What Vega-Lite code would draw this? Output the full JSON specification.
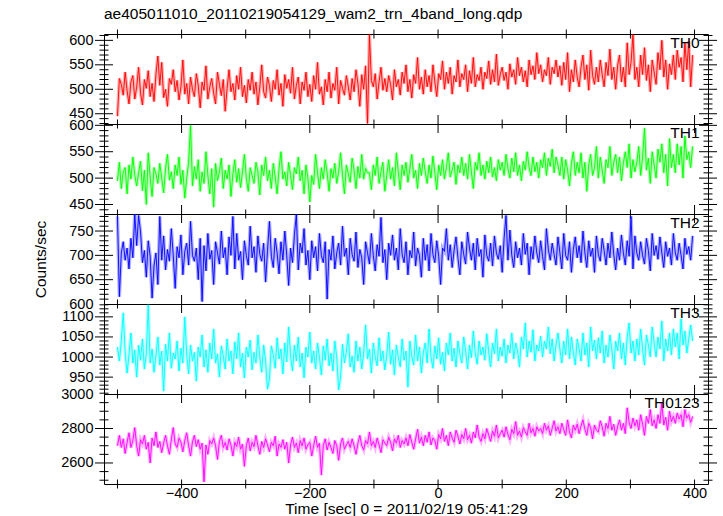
{
"$schema":"https://vega.github.io/schema/vega-lite/v6.json",
"padding":{"left":33,"top":6,"right":10,"bottom":0},
"background":"white",
"datasets":{
"xt":[{"v":-500,"k":"minor"},{"v":-400,"k":"major"},{"v":-300,"k":"minor"},{"v":-200,"k":"major"},{"v":-100,"k":"minor"},{"v":0,"k":"major"},{"v":100,"k":"minor"},{"v":200,"k":"major"},{"v":300,"k":"minor"},{"v":400,"k":"major"}],
"y0":[{"v":430,"k":"minor"},{"v":440,"k":"minor"},{"v":450,"k":"major"},{"v":460,"k":"minor"},{"v":470,"k":"minor"},{"v":480,"k":"minor"},{"v":490,"k":"minor"},{"v":500,"k":"major"},{"v":510,"k":"minor"},{"v":520,"k":"minor"},{"v":530,"k":"minor"},{"v":540,"k":"minor"},{"v":550,"k":"major"},{"v":560,"k":"minor"},{"v":570,"k":"minor"},{"v":580,"k":"minor"},{"v":590,"k":"minor"},{"v":600,"k":"major"},{"v":610,"k":"minor"}],
"y1":[{"v":440,"k":"minor"},{"v":450,"k":"major"},{"v":460,"k":"minor"},{"v":470,"k":"minor"},{"v":480,"k":"minor"},{"v":490,"k":"minor"},{"v":500,"k":"major"},{"v":510,"k":"minor"},{"v":520,"k":"minor"},{"v":530,"k":"minor"},{"v":540,"k":"minor"},{"v":550,"k":"major"},{"v":560,"k":"minor"},{"v":570,"k":"minor"},{"v":580,"k":"minor"},{"v":590,"k":"minor"},{"v":600,"k":"major"}],
"y2":[{"v":610,"k":"minor"},{"v":620,"k":"minor"},{"v":630,"k":"minor"},{"v":640,"k":"minor"},{"v":650,"k":"major"},{"v":660,"k":"minor"},{"v":670,"k":"minor"},{"v":680,"k":"minor"},{"v":690,"k":"minor"},{"v":700,"k":"major"},{"v":710,"k":"minor"},{"v":720,"k":"minor"},{"v":730,"k":"minor"},{"v":740,"k":"minor"},{"v":750,"k":"major"},{"v":760,"k":"minor"},{"v":770,"k":"minor"},{"v":780,"k":"minor"}],
"y3":[{"v":910,"k":"minor"},{"v":920,"k":"minor"},{"v":930,"k":"minor"},{"v":940,"k":"minor"},{"v":950,"k":"major"},{"v":960,"k":"minor"},{"v":970,"k":"minor"},{"v":980,"k":"minor"},{"v":990,"k":"minor"},{"v":1000,"k":"major"},{"v":1010,"k":"minor"},{"v":1020,"k":"minor"},{"v":1030,"k":"minor"},{"v":1040,"k":"minor"},{"v":1050,"k":"major"},{"v":1060,"k":"minor"},{"v":1070,"k":"minor"},{"v":1080,"k":"minor"},{"v":1090,"k":"minor"},{"v":1100,"k":"major"},{"v":1110,"k":"minor"},{"v":1120,"k":"minor"},{"v":1130,"k":"minor"}],
"y4":[{"v":2500,"k":"minor"},{"v":2550,"k":"minor"},{"v":2600,"k":"major"},{"v":2650,"k":"minor"},{"v":2700,"k":"minor"},{"v":2750,"k":"minor"},{"v":2800,"k":"major"},{"v":2850,"k":"minor"},{"v":2900,"k":"minor"},{"v":2950,"k":"minor"}]
},
"data":{"values":[
{"t":-500,"a":445,"b":495,"c":780,"d":1025,"e":2700},{"t":-497,"a":522,"b":530,"c":615,"d":990,"e":2760},{"t":-494,"a":510,"b":480,"c":705,"d":1040,"e":2690},{"t":-491,"a":488,"b":512,"c":728,"d":1110,"e":2740},{"t":-488,"a":535,"b":520,"c":690,"d":1010,"e":2655},{"t":-485,"a":497,"b":470,"c":715,"d":960,"e":2720},{"t":-482,"a":470,"b":525,"c":672,"d":1005,"e":2775},{"t":-479,"a":515,"b":498,"c":735,"d":1060,"e":2690},{"t":-476,"a":528,"b":540,"c":695,"d":985,"e":2730},{"t":-473,"a":480,"b":505,"c":785,"d":1018,"e":2805},
{"t":-470,"a":505,"b":485,"c":720,"d":950,"e":2700},{"t":-467,"a":545,"b":510,"c":782,"d":1030,"e":2640},{"t":-464,"a":492,"b":532,"c":748,"d":992,"e":2735},{"t":-461,"a":468,"b":476,"c":685,"d":1045,"e":2710},{"t":-458,"a":520,"b":515,"c":710,"d":970,"e":2760},{"t":-455,"a":502,"b":450,"c":655,"d":1008,"e":2680},{"t":-452,"a":538,"b":548,"c":730,"d":1130,"e":2720},{"t":-449,"a":485,"b":502,"c":698,"d":985,"e":2600},{"t":-446,"a":512,"b":465,"c":612,"d":1020,"e":2745},{"t":-443,"a":475,"b":520,"c":678,"d":962,"e":2700},
{"t":-440,"a":530,"b":508,"c":705,"d":1003,"e":2780},{"t":-437,"a":568,"b":490,"c":640,"d":1050,"e":2690},{"t":-434,"a":508,"b":528,"c":780,"d":980,"e":2725},{"t":-431,"a":555,"b":500,"c":690,"d":1015,"e":2660},{"t":-428,"a":483,"b":472,"c":740,"d":915,"e":2715},{"t":-425,"a":500,"b":518,"c":670,"d":1032,"e":2760},{"t":-422,"a":465,"b":545,"c":712,"d":990,"e":2700},{"t":-419,"a":522,"b":496,"c":688,"d":1060,"e":2650},{"t":-416,"a":510,"b":512,"c":755,"d":972,"e":2735},{"t":-413,"a":540,"b":480,"c":700,"d":1010,"e":2805},
{"t":-410,"a":495,"b":525,"c":632,"d":995,"e":2710},{"t":-407,"a":518,"b":505,"c":718,"d":1040,"e":2690},{"t":-404,"a":478,"b":540,"c":695,"d":965,"e":2745},{"t":-401,"a":505,"b":488,"c":742,"d":1022,"e":2720},{"t":-398,"a":560,"b":515,"c":660,"d":985,"e":2665},{"t":-395,"a":490,"b":462,"c":708,"d":1100,"e":2730},{"t":-392,"a":512,"b":500,"c":725,"d":1005,"e":2775},{"t":-389,"a":470,"b":530,"c":680,"d":958,"e":2700},{"t":-386,"a":525,"b":600,"c":770,"d":1030,"e":2640},{"t":-383,"a":500,"b":485,"c":700,"d":990,"e":2722},
{"t":-380,"a":485,"b":522,"c":688,"d":1012,"e":2760},{"t":-377,"a":532,"b":498,"c":715,"d":940,"e":2695},{"t":-374,"a":508,"b":535,"c":650,"d":1025,"e":2735},{"t":-371,"a":462,"b":475,"c":735,"d":1000,"e":2680},{"t":-368,"a":515,"b":512,"c":605,"d":1055,"e":2715},{"t":-365,"a":498,"b":490,"c":720,"d":975,"e":2490},{"t":-362,"a":548,"b":550,"c":668,"d":1018,"e":2705},{"t":-359,"a":480,"b":505,"c":745,"d":962,"e":2650},{"t":-356,"a":505,"b":470,"c":692,"d":1035,"e":2730},{"t":-353,"a":522,"b":518,"c":710,"d":995,"e":2710},
{"t":-350,"a":492,"b":445,"c":640,"d":1070,"e":2745},{"t":-347,"a":470,"b":528,"c":728,"d":985,"e":2700},{"t":-344,"a":535,"b":495,"c":705,"d":1008,"e":2620},{"t":-341,"a":510,"b":512,"c":682,"d":950,"e":2725},{"t":-338,"a":487,"b":538,"c":750,"d":1028,"e":2760},{"t":-335,"a":520,"b":480,"c":695,"d":1002,"e":2690},{"t":-332,"a":455,"b":515,"c":716,"d":970,"e":2718},{"t":-329,"a":502,"b":498,"c":660,"d":1045,"e":2675},{"t":-326,"a":540,"b":525,"c":738,"d":990,"e":2740},{"t":-323,"a":495,"b":465,"c":700,"d":1015,"e":2705},
{"t":-320,"a":512,"b":508,"c":780,"d":958,"e":2640},{"t":-317,"a":478,"b":535,"c":672,"d":1038,"e":2720},{"t":-314,"a":528,"b":492,"c":745,"d":995,"e":2695},{"t":-311,"a":500,"b":518,"c":690,"d":1060,"e":2750},{"t":-308,"a":545,"b":482,"c":708,"d":975,"e":2680},{"t":-305,"a":485,"b":512,"c":650,"d":1010,"e":2710},{"t":-302,"a":508,"b":545,"c":730,"d":948,"e":2580},{"t":-299,"a":472,"b":500,"c":700,"d":1025,"e":2700},{"t":-296,"a":520,"b":475,"c":680,"d":1000,"e":2745},{"t":-293,"a":498,"b":520,"c":760,"d":1042,"e":2670},
{"t":-290,"a":535,"b":505,"c":695,"d":968,"e":2720},{"t":-287,"a":490,"b":490,"c":718,"d":1012,"e":2695},{"t":-284,"a":515,"b":530,"c":665,"d":985,"e":2760},{"t":-281,"a":468,"b":512,"c":740,"d":1055,"e":2700},{"t":-278,"a":505,"b":468,"c":702,"d":1000,"e":2650},{"t":-275,"a":550,"b":525,"c":688,"d":962,"e":2725},{"t":-272,"a":495,"b":505,"c":725,"d":1030,"e":2690},{"t":-269,"a":482,"b":540,"c":645,"d":990,"e":2740},{"t":-266,"a":525,"b":495,"c":710,"d":920,"e":2705},{"t":-263,"a":508,"b":515,"c":770,"d":945,"e":2665},
{"t":-260,"a":475,"b":480,"c":698,"d":1028,"e":2720},{"t":-257,"a":518,"b":528,"c":675,"d":1005,"e":2700},{"t":-254,"a":500,"b":502,"c":735,"d":972,"e":2755},{"t":-251,"a":540,"b":470,"c":705,"d":1048,"e":2640},{"t":-248,"a":488,"b":518,"c":662,"d":995,"e":2710},{"t":-245,"a":512,"b":550,"c":728,"d":1020,"e":2690},{"t":-242,"a":465,"b":498,"c":690,"d":958,"e":2735},{"t":-239,"a":530,"b":512,"c":750,"d":1035,"e":2680},{"t":-236,"a":502,"b":485,"c":700,"d":988,"e":2720},{"t":-233,"a":520,"b":530,"c":638,"d":1075,"e":2600},
{"t":-230,"a":492,"b":505,"c":715,"d":1002,"e":2705},{"t":-227,"a":545,"b":478,"c":685,"d":965,"e":2750},{"t":-224,"a":480,"b":520,"c":742,"d":1030,"e":2690},{"t":-221,"a":508,"b":508,"c":784,"d":990,"e":2715},{"t":-218,"a":525,"b":540,"c":670,"d":1050,"e":2660},{"t":-215,"a":470,"b":495,"c":725,"d":975,"e":2730},{"t":-212,"a":515,"b":515,"c":705,"d":1010,"e":2700},{"t":-209,"a":498,"b":470,"c":755,"d":948,"e":2745},{"t":-206,"a":535,"b":525,"c":680,"d":1025,"e":2680},{"t":-203,"a":485,"b":500,"c":710,"d":1000,"e":2705},
{"t":-200,"a":510,"b":455,"c":650,"d":1062,"e":2720},{"t":-197,"a":475,"b":505,"c":730,"d":985,"e":2640},{"t":-194,"a":528,"b":488,"c":695,"d":1015,"e":2700},{"t":-191,"a":500,"b":545,"c":718,"d":970,"e":2755},{"t":-188,"a":555,"b":510,"c":668,"d":1035,"e":2690},{"t":-185,"a":490,"b":480,"c":745,"d":1000,"e":2715},{"t":-182,"a":505,"b":520,"c":700,"d":955,"e":2530},{"t":-179,"a":468,"b":498,"c":685,"d":1028,"e":2700},{"t":-176,"a":520,"b":535,"c":728,"d":992,"e":2740},{"t":-173,"a":495,"b":510,"c":610,"d":1045,"e":2675},
{"t":-170,"a":535,"b":475,"c":712,"d":978,"e":2720},{"t":-167,"a":482,"b":518,"c":690,"d":1010,"e":2690},{"t":-164,"a":512,"b":500,"c":740,"d":965,"e":2655},{"t":-161,"a":498,"b":528,"c":672,"d":1040,"e":2730},{"t":-158,"a":545,"b":490,"c":705,"d":998,"e":2700},{"t":-155,"a":470,"b":512,"c":725,"d":918,"e":2615},{"t":-152,"a":518,"b":548,"c":680,"d":950,"e":2710},{"t":-149,"a":502,"b":505,"c":760,"d":1032,"e":2745},{"t":-146,"a":488,"b":470,"c":698,"d":985,"e":2680},{"t":-143,"a":528,"b":525,"c":715,"d":1012,"e":2705},
{"t":-140,"a":505,"b":508,"c":660,"d":1058,"e":2725},{"t":-137,"a":478,"b":492,"c":735,"d":975,"e":2690},{"t":-134,"a":522,"b":538,"c":702,"d":1003,"e":2740},{"t":-131,"a":495,"b":515,"c":688,"d":962,"e":2700},{"t":-128,"a":540,"b":480,"c":748,"d":1040,"e":2650},{"t":-125,"a":512,"b":522,"c":675,"d":990,"e":2715},{"t":-122,"a":465,"b":500,"c":712,"d":1025,"e":2760},{"t":-119,"a":530,"b":545,"c":695,"d":970,"e":2700},{"t":-116,"a":500,"b":498,"c":640,"d":1010,"e":2675},{"t":-113,"a":548,"b":518,"c":728,"d":1080,"e":2730},
{"t":-110,"a":430,"b":510,"c":705,"d":995,"e":2710},{"t":-107,"a":612,"b":510,"c":682,"d":1020,"e":2780},{"t":-104,"a":518,"b":478,"c":745,"d":960,"e":2700},{"t":-101,"a":505,"b":525,"c":700,"d":1035,"e":2725},{"t":-98,"a":532,"b":505,"c":668,"d":1000,"e":2690},{"t":-95,"a":480,"b":540,"c":722,"d":978,"e":2745},{"t":-92,"a":515,"b":490,"c":698,"d":1048,"e":2705},{"t":-89,"a":545,"b":512,"c":778,"d":990,"e":2660},{"t":-86,"a":498,"b":530,"c":685,"d":1015,"e":2735},{"t":-83,"a":522,"b":475,"c":712,"d":968,"e":2715},
{"t":-80,"a":495,"b":505,"c":650,"d":1005,"e":2700},{"t":-77,"a":528,"b":535,"c":725,"d":1062,"e":2750},{"t":-74,"a":510,"b":498,"c":700,"d":982,"e":2720},{"t":-71,"a":478,"b":520,"c":742,"d":1018,"e":2670},{"t":-68,"a":540,"b":485,"c":690,"d":955,"e":2740},{"t":-65,"a":505,"b":548,"c":715,"d":1030,"e":2715},{"t":-62,"a":520,"b":512,"c":670,"d":1000,"e":2760},{"t":-59,"a":488,"b":478,"c":755,"d":975,"e":2690},{"t":-56,"a":535,"b":525,"c":702,"d":1045,"e":2730},{"t":-53,"a":512,"b":505,"c":685,"d":992,"e":2710},
{"t":-50,"a":550,"b":530,"c":728,"d":1015,"e":2745},{"t":-47,"a":495,"b":492,"c":660,"d":925,"e":2700},{"t":-44,"a":520,"b":518,"c":710,"d":1040,"e":2765},{"t":-41,"a":482,"b":545,"c":695,"d":1002,"e":2720},{"t":-38,"a":530,"b":500,"c":748,"d":980,"e":2680},{"t":-35,"a":512,"b":515,"c":678,"d":1055,"e":2740},{"t":-32,"a":565,"b":480,"c":715,"d":990,"e":2795},{"t":-29,"a":500,"b":528,"c":700,"d":1025,"e":2715},{"t":-26,"a":525,"b":505,"c":655,"d":960,"e":2750},{"t":-23,"a":490,"b":538,"c":735,"d":1010,"e":2700},
{"t":-20,"a":540,"b":512,"c":690,"d":1035,"e":2760},{"t":-17,"a":505,"b":490,"c":722,"d":985,"e":2720},{"t":-14,"a":528,"b":525,"c":668,"d":1070,"e":2780},{"t":-11,"a":495,"b":500,"c":745,"d":1000,"e":2705},{"t":-8,"a":550,"b":542,"c":702,"d":972,"e":2745},{"t":-5,"a":515,"b":510,"c":685,"d":1028,"e":2730},{"t":-2,"a":485,"b":478,"c":730,"d":995,"e":2680},{"t":1,"a":532,"b":525,"c":698,"d":1048,"e":2765},{"t":4,"a":520,"b":505,"c":640,"d":982,"e":2740},{"t":7,"a":558,"b":535,"c":715,"d":1012,"e":2800},
{"t":10,"a":500,"b":498,"c":708,"d":965,"e":2725},{"t":13,"a":535,"b":520,"c":755,"d":1035,"e":2760},{"t":16,"a":512,"b":548,"c":690,"d":1005,"e":2700},{"t":19,"a":545,"b":502,"c":722,"d":1060,"e":2780},{"t":22,"a":490,"b":515,"c":675,"d":990,"e":2745},{"t":25,"a":528,"b":530,"c":710,"d":1022,"e":2720},{"t":28,"a":515,"b":488,"c":738,"d":975,"e":2790},{"t":31,"a":560,"b":525,"c":695,"d":1040,"e":2755},{"t":34,"a":505,"b":510,"c":660,"d":1008,"e":2710},{"t":37,"a":532,"b":540,"c":728,"d":985,"e":2765},
{"t":40,"a":520,"b":505,"c":702,"d":1050,"e":2740},{"t":43,"a":550,"b":528,"c":682,"d":1015,"e":2800},{"t":46,"a":495,"b":498,"c":748,"d":970,"e":2735},{"t":49,"a":538,"b":545,"c":715,"d":1030,"e":2760},{"t":52,"a":512,"b":512,"c":690,"d":998,"e":2715},{"t":55,"a":565,"b":480,"c":725,"d":1065,"e":2780},{"t":58,"a":505,"b":530,"c":670,"d":1010,"e":2745},{"t":61,"a":530,"b":515,"c":735,"d":982,"e":2820},{"t":64,"a":518,"b":548,"c":698,"d":1040,"e":2750},{"t":67,"a":545,"b":505,"c":712,"d":1005,"e":2725},
{"t":70,"a":500,"b":525,"c":655,"d":1025,"e":2770},{"t":73,"a":535,"b":498,"c":742,"d":992,"e":2740},{"t":76,"a":522,"b":532,"c":700,"d":1058,"e":2800},{"t":79,"a":558,"b":510,"c":688,"d":1012,"e":2760},{"t":82,"a":510,"b":540,"c":725,"d":975,"e":2725},{"t":85,"a":540,"b":502,"c":678,"d":1035,"e":2785},{"t":88,"a":515,"b":520,"c":740,"d":1008,"e":2755},{"t":91,"a":572,"b":495,"c":705,"d":1070,"e":2820},{"t":94,"a":508,"b":535,"c":692,"d":990,"e":2745},{"t":97,"a":530,"b":515,"c":720,"d":1025,"e":2770},
{"t":100,"a":545,"b":530,"c":665,"d":1002,"e":2790},{"t":103,"a":518,"b":505,"c":735,"d":1045,"e":2750},{"t":106,"a":535,"b":545,"c":782,"d":985,"e":2810},{"t":109,"a":500,"b":518,"c":690,"d":1030,"e":2765},{"t":112,"a":552,"b":500,"c":752,"d":1010,"e":2735},{"t":115,"a":525,"b":538,"c":700,"d":1060,"e":2795},{"t":118,"a":540,"b":512,"c":675,"d":995,"e":2770},{"t":121,"a":510,"b":548,"c":728,"d":1035,"e":2840},{"t":124,"a":565,"b":505,"c":695,"d":1015,"e":2760},{"t":127,"a":528,"b":525,"c":715,"d":975,"e":2785},
{"t":130,"a":545,"b":495,"c":680,"d":1050,"e":2750},{"t":133,"a":515,"b":532,"c":745,"d":1020,"e":2805},{"t":136,"a":538,"b":515,"c":702,"d":1085,"e":2780},{"t":139,"a":505,"b":550,"c":725,"d":1000,"e":2760},{"t":142,"a":560,"b":520,"c":660,"d":1040,"e":2830},{"t":145,"a":530,"b":505,"c":718,"d":1012,"e":2775},{"t":148,"a":548,"b":540,"c":692,"d":1068,"e":2800},{"t":151,"a":520,"b":512,"c":740,"d":990,"e":2755},{"t":154,"a":575,"b":530,"c":705,"d":1030,"e":2810},{"t":157,"a":532,"b":500,"c":685,"d":1015,"e":2785},
{"t":160,"a":550,"b":535,"c":730,"d":1052,"e":2800},{"t":163,"a":515,"b":520,"c":698,"d":1000,"e":2770},{"t":166,"a":540,"b":548,"c":670,"d":1040,"e":2830},{"t":169,"a":528,"b":505,"c":755,"d":1020,"e":2790},{"t":172,"a":565,"b":538,"c":712,"d":1075,"e":2815},{"t":175,"a":510,"b":522,"c":690,"d":1008,"e":2760},{"t":178,"a":545,"b":555,"c":725,"d":1045,"e":2800},{"t":181,"a":532,"b":510,"c":702,"d":990,"e":2845},{"t":184,"a":560,"b":540,"c":680,"d":1030,"e":2785},{"t":187,"a":525,"b":525,"c":738,"d":1060,"e":2810},
{"t":190,"a":548,"b":505,"c":705,"d":1020,"e":2770},{"t":193,"a":508,"b":540,"c":672,"d":985,"e":2830},{"t":196,"a":555,"b":498,"c":745,"d":1040,"e":2795},{"t":199,"a":520,"b":535,"c":700,"d":1005,"e":2760},{"t":202,"a":575,"b":515,"c":690,"d":1070,"e":2850},{"t":205,"a":495,"b":485,"c":728,"d":995,"e":2780},{"t":208,"a":540,"b":528,"c":665,"d":1050,"e":2745},{"t":211,"a":515,"b":550,"c":712,"d":1010,"e":2820},{"t":214,"a":560,"b":505,"c":738,"d":980,"e":2790},{"t":217,"a":525,"b":530,"c":695,"d":1045,"e":2825},
{"t":220,"a":505,"b":510,"c":720,"d":1020,"e":2770},{"t":223,"a":545,"b":548,"c":685,"d":990,"e":2815},{"t":226,"a":570,"b":500,"c":750,"d":1060,"e":2850},{"t":229,"a":520,"b":530,"c":705,"d":1005,"e":2795},{"t":232,"a":550,"b":475,"c":675,"d":1035,"e":2760},{"t":235,"a":498,"b":525,"c":730,"d":975,"e":2830},{"t":238,"a":580,"b":545,"c":698,"d":1075,"e":2805},{"t":241,"a":528,"b":505,"c":715,"d":1015,"e":2740},{"t":244,"a":510,"b":520,"c":665,"d":1042,"e":2820},{"t":247,"a":545,"b":560,"c":740,"d":995,"e":2790},
{"t":250,"a":515,"b":500,"c":702,"d":1048,"e":2780},{"t":253,"a":560,"b":540,"c":688,"d":1010,"e":2845},{"t":256,"a":530,"b":515,"c":735,"d":1065,"e":2810},{"t":259,"a":505,"b":490,"c":710,"d":985,"e":2755},{"t":262,"a":555,"b":535,"c":680,"d":1030,"e":2830},{"t":265,"a":528,"b":520,"c":725,"d":1000,"e":2800},{"t":268,"a":582,"b":560,"c":695,"d":1055,"e":2870},{"t":271,"a":520,"b":505,"c":748,"d":1020,"e":2790},{"t":274,"a":545,"b":530,"c":702,"d":970,"e":2825},{"t":277,"a":500,"b":545,"c":670,"d":1040,"e":2760},
{"t":280,"a":548,"b":510,"c":715,"d":1015,"e":2810},{"t":283,"a":570,"b":540,"c":690,"d":1060,"e":2850},{"t":286,"a":515,"b":495,"c":742,"d":995,"e":2790},{"t":289,"a":545,"b":528,"c":705,"d":1035,"e":2830},{"t":292,"a":505,"b":550,"c":680,"d":980,"e":2770},{"t":295,"a":595,"b":520,"c":730,"d":1050,"e":2920},{"t":298,"a":530,"b":565,"c":698,"d":1085,"e":2835},{"t":301,"a":555,"b":500,"c":780,"d":1010,"e":2800},{"t":304,"a":612,"b":535,"c":672,"d":1040,"e":2860},{"t":307,"a":520,"b":512,"c":740,"d":990,"e":2815},
{"t":310,"a":545,"b":530,"c":705,"d":1045,"e":2850},{"t":313,"a":505,"b":560,"c":690,"d":1005,"e":2790},{"t":316,"a":570,"b":505,"c":728,"d":1070,"e":2880},{"t":319,"a":530,"b":540,"c":700,"d":1020,"e":2825},{"t":322,"a":585,"b":595,"c":682,"d":980,"e":2760},{"t":325,"a":518,"b":515,"c":735,"d":1055,"e":2870},{"t":328,"a":550,"b":538,"c":710,"d":1030,"e":2830},{"t":331,"a":495,"b":490,"c":668,"d":1000,"e":2910},{"t":334,"a":560,"b":550,"c":745,"d":1075,"e":2815},{"t":337,"a":535,"b":525,"c":700,"d":1035,"e":2850},
{"t":340,"a":510,"b":500,"c":720,"d":1000,"e":2800},{"t":343,"a":575,"b":555,"c":692,"d":1050,"e":2880},{"t":346,"a":540,"b":530,"c":738,"d":1020,"e":2830},{"t":349,"a":600,"b":565,"c":705,"d":1090,"e":2950},{"t":352,"a":525,"b":510,"c":675,"d":990,"e":2820},{"t":355,"a":560,"b":545,"c":728,"d":1045,"e":2865},{"t":358,"a":500,"b":485,"c":698,"d":1015,"e":2790},{"t":361,"a":552,"b":575,"c":715,"d":1060,"e":2900},{"t":364,"a":530,"b":520,"c":680,"d":1005,"e":2840},{"t":367,"a":570,"b":545,"c":745,"d":1070,"e":2870},
{"t":370,"a":520,"b":510,"c":705,"d":1025,"e":2830},{"t":373,"a":580,"b":565,"c":690,"d":1060,"e":2890},{"t":376,"a":545,"b":525,"c":725,"d":995,"e":2855},{"t":379,"a":565,"b":560,"c":700,"d":1095,"e":2880},{"t":382,"a":515,"b":500,"c":672,"d":1030,"e":2810},{"t":385,"a":595,"b":580,"c":735,"d":1065,"e":2910},{"t":388,"a":540,"b":535,"c":702,"d":1010,"e":2860},{"t":391,"a":598,"b":550,"c":718,"d":1045,"e":2880},{"t":394,"a":505,"b":520,"c":690,"d":1080,"e":2835},{"t":397,"a":570,"b":560,"c":740,"d":1040,"e":2870}
]},
"spacing":0,
"bounds":"flush",
"vconcat":[
{"width":604,"height":90,
 "title":{"text":"ae405011010_20110219054129_wam2_trn_4band_long.qdp","anchor":"start","frame":"group","baseline":"alphabetic","offset":-5,"font":"Liberation Sans","fontSize":15.5,"fontWeight":"normal","color":"#000"},
 "layer":[
  {"mark":{"type":"line","color":"#ff0000","strokeWidth":3.5,"opacity":0.3,"clip":true},
   "encoding":{"x":{"field":"t","type":"quantitative","scale":{"domain":[-521,421],"nice":false,"zero":false},"axis":null},
    "y":{"field":"a","type":"quantitative","scale":{"domain":[429,613],"nice":false,"zero":false},"axis":{"orient":"left","values":[450,500,550,600],"format":"d","ticks":false,"labelPadding":11,"title":null}}}},
  {"mark":{"type":"line","color":"#ff0000","strokeWidth":0.9,"clip":true},
   "encoding":{"x":{"field":"t","type":"quantitative","axis":null},"y":{"field":"a","type":"quantitative","axis":{"orient":"left","values":[450,500,550,600],"format":"d","ticks":false,"labelPadding":11,"title":null}}}},
  {"data":{"values":[{"label":"TH0"}]},
   "mark":{"type":"text","align":"right","baseline":"top","dy":2,"font":"Liberation Sans","fontSize":15.5,"color":"#000"},
   "encoding":{"x":{"datum":408,"type":"quantitative","axis":null},"y":{"datum":613,"type":"quantitative","axis":{"orient":"left","values":[450,500,550,600],"format":"d","ticks":false,"labelPadding":11,"title":null}},"text":{"field":"label"}}},
  {"data":{"name":"y0"},"mark":{"type":"tick","orient":"horizontal","color":"#000","thickness":1,"opacity":1},
   "encoding":{"x":{"datum":-521,"type":"quantitative","axis":null},"y":{"field":"v","type":"quantitative","axis":{"orient":"left","values":[450,500,550,600],"format":"d","ticks":false,"labelPadding":11,"title":null}},"size":{"field":"k","type":"nominal","scale":{"domain":["major","minor"],"range":[18,9]},"legend":null}}},
  {"data":{"name":"y0"},"mark":{"type":"tick","orient":"horizontal","color":"#000","thickness":1,"opacity":1},
   "encoding":{"x":{"datum":421,"type":"quantitative","axis":null},"y":{"field":"v","type":"quantitative","axis":{"orient":"left","values":[450,500,550,600],"format":"d","ticks":false,"labelPadding":11,"title":null}},"size":{"field":"k","type":"nominal","scale":{"domain":["major","minor"],"range":[18,9]},"legend":null}}},
  {"data":{"name":"xt"},"mark":{"type":"tick","orient":"vertical","color":"#000","thickness":1,"opacity":1},
   "encoding":{"x":{"field":"v","type":"quantitative","axis":null},"y":{"datum":429,"type":"quantitative","axis":{"orient":"left","values":[450,500,550,600],"format":"d","ticks":false,"labelPadding":11,"title":null}},"size":{"field":"k","type":"nominal","scale":{"domain":["major","minor"],"range":[18,9]},"legend":null}}},
  {"data":{"name":"xt"},"mark":{"type":"tick","orient":"vertical","color":"#000","thickness":1,"opacity":1,"size":9},
   "encoding":{"x":{"field":"v","type":"quantitative","axis":null},"y":{"datum":613,"type":"quantitative","axis":{"orient":"left","values":[450,500,550,600],"format":"d","ticks":false,"labelPadding":11,"title":null}}}}
 ]},
{"width":604,"height":90,
 "layer":[
  {"mark":{"type":"line","color":"#00ff00","strokeWidth":3.5,"opacity":0.3,"clip":true},
   "encoding":{"x":{"field":"t","type":"quantitative","scale":{"domain":[-521,421],"nice":false,"zero":false},"axis":null},
    "y":{"field":"b","type":"quantitative","scale":{"domain":[432,602.5],"nice":false,"zero":false},"axis":{"orient":"left","values":[450,500,550,600],"format":"d","ticks":false,"labelPadding":11,"title":null}}}},
  {"mark":{"type":"line","color":"#00ff00","strokeWidth":0.9,"clip":true},
   "encoding":{"x":{"field":"t","type":"quantitative","axis":null},"y":{"field":"b","type":"quantitative","axis":{"orient":"left","values":[450,500,550,600],"format":"d","ticks":false,"labelPadding":11,"title":null}}}},
  {"data":{"values":[{"label":"TH1"}]},
   "mark":{"type":"text","align":"right","baseline":"top","dy":2,"font":"Liberation Sans","fontSize":15.5,"color":"#000"},
   "encoding":{"x":{"datum":408,"type":"quantitative","axis":null},"y":{"datum":602.5,"type":"quantitative","axis":{"orient":"left","values":[450,500,550,600],"format":"d","ticks":false,"labelPadding":11,"title":null}},"text":{"field":"label"}}},
  {"data":{"name":"y1"},"mark":{"type":"tick","orient":"horizontal","color":"#000","thickness":1,"opacity":1},
   "encoding":{"x":{"datum":-521,"type":"quantitative","axis":null},"y":{"field":"v","type":"quantitative","axis":{"orient":"left","values":[450,500,550,600],"format":"d","ticks":false,"labelPadding":11,"title":null}},"size":{"field":"k","type":"nominal","scale":{"domain":["major","minor"],"range":[18,9]},"legend":null}}},
  {"data":{"name":"y1"},"mark":{"type":"tick","orient":"horizontal","color":"#000","thickness":1,"opacity":1},
   "encoding":{"x":{"datum":421,"type":"quantitative","axis":null},"y":{"field":"v","type":"quantitative","axis":{"orient":"left","values":[450,500,550,600],"format":"d","ticks":false,"labelPadding":11,"title":null}},"size":{"field":"k","type":"nominal","scale":{"domain":["major","minor"],"range":[18,9]},"legend":null}}},
  {"data":{"name":"xt"},"mark":{"type":"tick","orient":"vertical","color":"#000","thickness":1,"opacity":1},
   "encoding":{"x":{"field":"v","type":"quantitative","axis":null},"y":{"datum":432,"type":"quantitative","axis":{"orient":"left","values":[450,500,550,600],"format":"d","ticks":false,"labelPadding":11,"title":null}},"size":{"field":"k","type":"nominal","scale":{"domain":["major","minor"],"range":[18,9]},"legend":null}}}
 ]},
{"width":604,"height":90,
 "layer":[
  {"mark":{"type":"line","color":"#0000ff","strokeWidth":3.5,"opacity":0.3,"clip":true},
   "encoding":{"x":{"field":"t","type":"quantitative","scale":{"domain":[-521,421],"nice":false,"zero":false},"axis":null},
    "y":{"field":"c","type":"quantitative","scale":{"domain":[600,785],"nice":false,"zero":false},"axis":{"orient":"left","values":[600,650,700,750],"format":"d","ticks":false,"labelPadding":11,"title":"Counts/sec","titlePadding":20}}}},
  {"mark":{"type":"line","color":"#0000ff","strokeWidth":0.9,"clip":true},
   "encoding":{"x":{"field":"t","type":"quantitative","axis":null},"y":{"field":"c","type":"quantitative","axis":{"orient":"left","values":[600,650,700,750],"format":"d","ticks":false,"labelPadding":11,"title":"Counts/sec","titlePadding":20}}}},
  {"data":{"values":[{"label":"TH2"}]},
   "mark":{"type":"text","align":"right","baseline":"top","dy":2,"font":"Liberation Sans","fontSize":15.5,"color":"#000"},
   "encoding":{"x":{"datum":408,"type":"quantitative","axis":null},"y":{"datum":785,"type":"quantitative","axis":{"orient":"left","values":[600,650,700,750],"format":"d","ticks":false,"labelPadding":11,"title":"Counts/sec","titlePadding":20}},"text":{"field":"label"}}},
  {"data":{"name":"y2"},"mark":{"type":"tick","orient":"horizontal","color":"#000","thickness":1,"opacity":1},
   "encoding":{"x":{"datum":-521,"type":"quantitative","axis":null},"y":{"field":"v","type":"quantitative","axis":{"orient":"left","values":[600,650,700,750],"format":"d","ticks":false,"labelPadding":11,"title":"Counts/sec","titlePadding":20}},"size":{"field":"k","type":"nominal","scale":{"domain":["major","minor"],"range":[18,9]},"legend":null}}},
  {"data":{"name":"y2"},"mark":{"type":"tick","orient":"horizontal","color":"#000","thickness":1,"opacity":1},
   "encoding":{"x":{"datum":421,"type":"quantitative","axis":null},"y":{"field":"v","type":"quantitative","axis":{"orient":"left","values":[600,650,700,750],"format":"d","ticks":false,"labelPadding":11,"title":"Counts/sec","titlePadding":20}},"size":{"field":"k","type":"nominal","scale":{"domain":["major","minor"],"range":[18,9]},"legend":null}}},
  {"data":{"name":"xt"},"mark":{"type":"tick","orient":"vertical","color":"#000","thickness":1,"opacity":1},
   "encoding":{"x":{"field":"v","type":"quantitative","axis":null},"y":{"datum":600,"type":"quantitative","axis":{"orient":"left","values":[600,650,700,750],"format":"d","ticks":false,"labelPadding":11,"title":"Counts/sec","titlePadding":20}},"size":{"field":"k","type":"nominal","scale":{"domain":["major","minor"],"range":[18,9]},"legend":null}}}
 ]},
{"width":604,"height":90,
 "layer":[
  {"mark":{"type":"line","color":"#00ffff","strokeWidth":3.5,"opacity":0.3,"clip":true},
   "encoding":{"x":{"field":"t","type":"quantitative","scale":{"domain":[-521,421],"nice":false,"zero":false},"axis":null},
    "y":{"field":"d","type":"quantitative","scale":{"domain":[908,1132],"nice":false,"zero":false},"axis":{"orient":"left","values":[950,1000,1050,1100],"format":"d","ticks":false,"labelPadding":11,"title":null}}}},
  {"mark":{"type":"line","color":"#00ffff","strokeWidth":0.9,"clip":true},
   "encoding":{"x":{"field":"t","type":"quantitative","axis":null},"y":{"field":"d","type":"quantitative","axis":{"orient":"left","values":[950,1000,1050,1100],"format":"d","ticks":false,"labelPadding":11,"title":null}}}},
  {"data":{"values":[{"label":"TH3"}]},
   "mark":{"type":"text","align":"right","baseline":"top","dy":2,"font":"Liberation Sans","fontSize":15.5,"color":"#000"},
   "encoding":{"x":{"datum":408,"type":"quantitative","axis":null},"y":{"datum":1132,"type":"quantitative","axis":{"orient":"left","values":[950,1000,1050,1100],"format":"d","ticks":false,"labelPadding":11,"title":null}},"text":{"field":"label"}}},
  {"data":{"name":"y3"},"mark":{"type":"tick","orient":"horizontal","color":"#000","thickness":1,"opacity":1},
   "encoding":{"x":{"datum":-521,"type":"quantitative","axis":null},"y":{"field":"v","type":"quantitative","axis":{"orient":"left","values":[950,1000,1050,1100],"format":"d","ticks":false,"labelPadding":11,"title":null}},"size":{"field":"k","type":"nominal","scale":{"domain":["major","minor"],"range":[18,9]},"legend":null}}},
  {"data":{"name":"y3"},"mark":{"type":"tick","orient":"horizontal","color":"#000","thickness":1,"opacity":1},
   "encoding":{"x":{"datum":421,"type":"quantitative","axis":null},"y":{"field":"v","type":"quantitative","axis":{"orient":"left","values":[950,1000,1050,1100],"format":"d","ticks":false,"labelPadding":11,"title":null}},"size":{"field":"k","type":"nominal","scale":{"domain":["major","minor"],"range":[18,9]},"legend":null}}},
  {"data":{"name":"xt"},"mark":{"type":"tick","orient":"vertical","color":"#000","thickness":1,"opacity":1},
   "encoding":{"x":{"field":"v","type":"quantitative","axis":null},"y":{"datum":908,"type":"quantitative","axis":{"orient":"left","values":[950,1000,1050,1100],"format":"d","ticks":false,"labelPadding":11,"title":null}},"size":{"field":"k","type":"nominal","scale":{"domain":["major","minor"],"range":[18,9]},"legend":null}}}
 ]},
{"width":604,"height":90,
 "layer":[
  {"mark":{"type":"line","color":"#ff00ff","strokeWidth":3.5,"opacity":0.3,"clip":true},
   "encoding":{"x":{"field":"t","type":"quantitative","scale":{"domain":[-521,421],"nice":false,"zero":false},"axis":{"orient":"bottom","values":[-400,-200,0,200,400],"ticks":false,"labelPadding":2,"title":"Time [sec] 0 = 2011/02/19 05:41:29","titlePadding":2}},
    "y":{"field":"e","type":"quantitative","scale":{"domain":[2478,3000],"nice":false,"zero":false},"axis":{"orient":"left","values":[2600,2800,3000],"format":"d","ticks":false,"labelPadding":11,"title":null}}}},
  {"mark":{"type":"line","color":"#ff00ff","strokeWidth":0.9,"clip":true},
   "encoding":{"x":{"field":"t","type":"quantitative","axis":{"orient":"bottom","values":[-400,-200,0,200,400],"ticks":false,"labelPadding":2,"title":"Time [sec] 0 = 2011/02/19 05:41:29","titlePadding":2}},"y":{"field":"e","type":"quantitative","axis":{"orient":"left","values":[2600,2800,3000],"format":"d","ticks":false,"labelPadding":11,"title":null}}}},
  {"data":{"values":[{"label":"TH0123"}]},
   "mark":{"type":"text","align":"right","baseline":"top","dy":2,"font":"Liberation Sans","fontSize":15.5,"color":"#000"},
   "encoding":{"x":{"datum":408,"type":"quantitative","axis":{"orient":"bottom","values":[-400,-200,0,200,400],"ticks":false,"labelPadding":2,"title":"Time [sec] 0 = 2011/02/19 05:41:29","titlePadding":2}},"y":{"datum":3000,"type":"quantitative","axis":{"orient":"left","values":[2600,2800,3000],"format":"d","ticks":false,"labelPadding":11,"title":null}},"text":{"field":"label"}}},
  {"data":{"name":"y4"},"mark":{"type":"tick","orient":"horizontal","color":"#000","thickness":1,"opacity":1},
   "encoding":{"x":{"datum":-521,"type":"quantitative","axis":{"orient":"bottom","values":[-400,-200,0,200,400],"ticks":false,"labelPadding":2,"title":"Time [sec] 0 = 2011/02/19 05:41:29","titlePadding":2}},"y":{"field":"v","type":"quantitative","axis":{"orient":"left","values":[2600,2800,3000],"format":"d","ticks":false,"labelPadding":11,"title":null}},"size":{"field":"k","type":"nominal","scale":{"domain":["major","minor"],"range":[18,9]},"legend":null}}},
  {"data":{"name":"y4"},"mark":{"type":"tick","orient":"horizontal","color":"#000","thickness":1,"opacity":1},
   "encoding":{"x":{"datum":421,"type":"quantitative","axis":{"orient":"bottom","values":[-400,-200,0,200,400],"ticks":false,"labelPadding":2,"title":"Time [sec] 0 = 2011/02/19 05:41:29","titlePadding":2}},"y":{"field":"v","type":"quantitative","axis":{"orient":"left","values":[2600,2800,3000],"format":"d","ticks":false,"labelPadding":11,"title":null}},"size":{"field":"k","type":"nominal","scale":{"domain":["major","minor"],"range":[18,9]},"legend":null}}},
  {"data":{"name":"xt"},"mark":{"type":"tick","orient":"vertical","color":"#000","thickness":1,"opacity":1,"size":9},
   "encoding":{"x":{"field":"v","type":"quantitative","axis":{"orient":"bottom","values":[-400,-200,0,200,400],"ticks":false,"labelPadding":2,"title":"Time [sec] 0 = 2011/02/19 05:41:29","titlePadding":2}},"y":{"datum":2478,"type":"quantitative","axis":{"orient":"left","values":[2600,2800,3000],"format":"d","ticks":false,"labelPadding":11,"title":null}}}}
 ]}
],
"config":{
 "view":{"stroke":"#000","strokeWidth":1},
 "axis":{"domain":false,"grid":false,"labelFont":"Liberation Sans","labelFontSize":14.5,"labelColor":"#000","titleFont":"Liberation Sans","titleFontSize":15.5,"titleFontWeight":"normal","titleColor":"#000","labelOverlap":false,"labelBound":false,"labelFlush":false}
}
}
